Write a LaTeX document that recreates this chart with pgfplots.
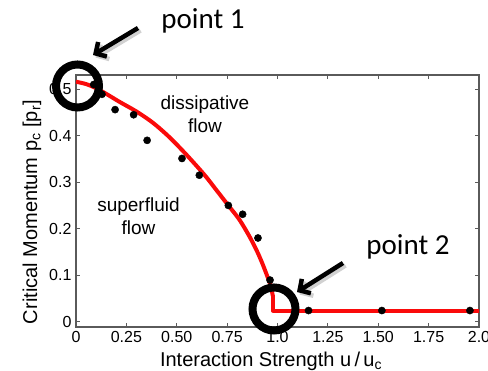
\documentclass[border=0pt]{standalone}
\usepackage{pgfplots}
\pgfplotsset{compat=1.18}
\usepackage{fontspec}
\setmainfont{Liberation Sans}
\newfontfamily\calibri{Carlito}
\usetikzlibrary{arrows.meta}
\definecolor{axgray}{RGB}{90,90,90}
\definecolor{curvered}{RGB}{250,10,10}
\begin{document}
\begin{tikzpicture}[x=1pt,y=1pt]
\begin{axis}[
  at={(76pt,44pt)}, anchor=south west,
  scale only axis, width=403pt, height=252pt,
  xmin=0, xmax=2.0, ymin=-0.0114, ymax=0.5305,
  axis line style={axgray, line width=1.2pt},
  tick style={axgray, line width=1pt},
  tick align=inside, major tick length=4pt,
  xtick={0,0.25,0.5,0.75,1.0,1.25,1.5,1.75,2.0},
  xticklabels={0,0.25,0.50,0.75,1.0,1.25,1.50,1.75,2.0},
  ytick={0,0.1,0.2,0.3,0.4,0.5},
  yticklabels={0,0.1,0.2,0.3,0.4,0.5},
  ticklabel style={font=\fontsize{16}{16}\selectfont},
  /pgf/number format/assume math mode=true,
  xticklabel style={yshift=-1pt},
  yticklabel style={xshift=-1pt},
  xlabel={Interaction Strength u\,/\,u\textsubscript{c}},
  ylabel={Critical Momentum p\textsubscript{c} [p\textsubscript{r}]},
  every axis x label/.style={at={(axis description cs:0.484,-0.155)}, anchor=base, font=\fontsize{20}{24}\selectfont},
  every axis y label/.style={at={(axis description cs:-0.109,0.456)}, rotate=90, anchor=center, font=\fontsize{20}{24}\selectfont},
  clip=true,
]
\addplot[curvered, line width=4pt, smooth, tension=0.5] coordinates {
(0,0.516) (0.05,0.511) (0.1,0.502) (0.15,0.490) (0.215,0.473) (0.3,0.452)
(0.381,0.428) (0.463,0.397) (0.546,0.360) (0.637,0.316) (0.695,0.284)
(0.756,0.250) (0.81,0.220) (0.86,0.184) (0.9,0.150) (0.926,0.124)
(0.95,0.097) (0.966,0.078) (0.977,0.055)
};
\addplot[curvered, line width=4pt, line join=round] coordinates {
(0.977,0.058) (0.977,0.024) (2.05,0.024)
};
\addplot[only marks, mark=*, mark size=3.6pt, black] coordinates {
(0.088,0.510) (0.129,0.489) (0.194,0.456) (0.286,0.445) (0.353,0.390)
(0.526,0.351) (0.612,0.315) (0.756,0.250) (0.827,0.231) (0.903,0.180)
(0.963,0.0895) (1.154,0.024) (1.518,0.024) (1.955,0.024)
};
\node[align=center, font=\fontsize{19}{23}\selectfont] at (axis cs:0.64,0.447) {dissipative\\flow};
\node[align=center, font=\fontsize{19}{23}\selectfont] at (axis cs:0.31,0.227) {superfluid\\flow};
\end{axis}
% annotations (circles, arrows, labels)
\draw[line width=8pt, black] (77.5,285) circle (21.5);
\draw[line width=8pt, black] (274,62) circle (21.5);
\draw[gray!60, opacity=0.6, line width=4.5pt, -{Straight Barb[length=8pt,width=17pt]}] (140.5,340.5) -- (95.5,313.5);
\draw[black, line width=4.5pt, -{Straight Barb[length=8pt,width=17pt]}] (138,343) -- (93,316);
\draw[gray!60, opacity=0.6, line width=4.5pt, -{Straight Barb[length=8pt,width=17pt]}] (345.5,105.5) -- (299.5,76.5);
\draw[black, line width=4.5pt, -{Straight Barb[length=8pt,width=17pt]}] (343,108) -- (297,79);
\node[font=\calibri\fontsize{29}{30}\selectfont] at (203,350) {point 1};
\node[font=\calibri\fontsize{29}{30}\selectfont] at (408,124) {point 2};
\pgfresetboundingbox
\useasboundingbox (0,0) rectangle (488,371);
\end{tikzpicture}
\end{document}
